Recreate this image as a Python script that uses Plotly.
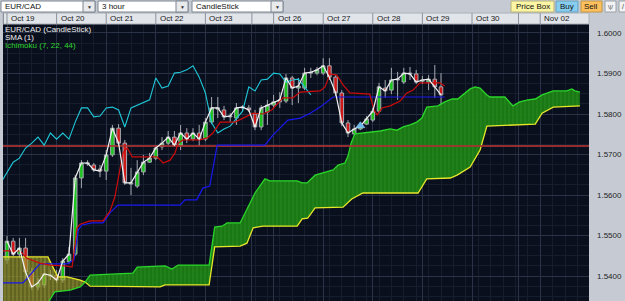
import plotly.graph_objects as go

# ---------------- data (3-hour candles, slot index) ----------------
slots = list(range(71))
opens = [1.5440,1.5486,1.5454,1.5469,1.5410,1.5373,1.5378,1.5400,1.5402,1.5390,
         1.5435,1.5454,1.5642,1.5677,1.5674,1.5664,1.5659,1.5699,1.5765,1.5728,
         1.5627,1.5622,1.5657,1.5681,1.5691,1.5719,1.5728,1.5743,1.5723,1.5753,
         1.5738,1.5753,1.5738,1.5780,1.5812,1.5810,1.5793,1.5790,1.5815,1.5815,
         1.5800,1.5768,1.5805,1.5822,1.5830,1.5832,1.5889,1.5864,1.5864,1.5901,
         1.5901,1.5901,1.5919,1.5891,1.5852,1.5778,1.5751,1.5763,1.5775,1.5785,
         1.5807,1.5864,1.5859,1.5884,1.5879,1.5901,1.5899,1.5881,1.5879,1.5886,
         1.5867]
highs = [1.5499,1.5494,1.5494,1.5494,1.5420,1.5395,1.5435,1.5415,1.5415,1.5444,
         1.5472,1.5649,1.5686,1.5686,1.5679,1.5674,1.5711,1.5773,1.5775,1.5736,
         1.5667,1.5686,1.5699,1.5704,1.5723,1.5743,1.5758,1.5758,1.5773,1.5765,
         1.5765,1.5773,1.5790,1.5842,1.5842,1.5820,1.5802,1.5827,1.5822,1.5822,
         1.5810,1.5822,1.5835,1.5847,1.5854,1.5899,1.5894,1.5889,1.5914,1.5914,
         1.5916,1.5938,1.5938,1.5896,1.5859,1.5785,1.5773,1.5778,1.5795,1.5815,
         1.5877,1.5884,1.5914,1.5904,1.5914,1.5916,1.5909,1.5894,1.5896,1.5921,
         1.5901]
lows = [1.5430,1.5449,1.5444,1.5390,1.5365,1.5365,1.5370,1.5390,1.5383,1.5383,
        1.5430,1.5449,1.5617,1.5672,1.5657,1.5644,1.5637,1.5694,1.5721,1.5625,
        1.5600,1.5617,1.5649,1.5679,1.5686,1.5711,1.5723,1.5719,1.5711,1.5728,
        1.5733,1.5721,1.5733,1.5775,1.5790,1.5785,1.5780,1.5773,1.5807,1.5805,
        1.5760,1.5760,1.5773,1.5815,1.5815,1.5827,1.5822,1.5827,1.5859,1.5889,
        1.5896,1.5896,1.5884,1.5844,1.5770,1.5743,1.5746,1.5760,1.5773,1.5780,
        1.5802,1.5840,1.5849,1.5835,1.5874,1.5884,1.5874,1.5874,1.5859,1.5840,
        1.5815]
closes = [1.5486,1.5454,1.5469,1.5410,1.5373,1.5383,1.5405,1.5402,1.5390,1.5437,
          1.5454,1.5642,1.5679,1.5679,1.5662,1.5659,1.5699,1.5765,1.5728,1.5630,
          1.5630,1.5657,1.5681,1.5691,1.5716,1.5728,1.5743,1.5723,1.5753,1.5738,
          1.5753,1.5738,1.5780,1.5815,1.5815,1.5793,1.5795,1.5815,1.5817,1.5810,
          1.5768,1.5815,1.5822,1.5830,1.5835,1.5889,1.5864,1.5869,1.5901,1.5903,
          1.5909,1.5919,1.5891,1.5852,1.5778,1.5753,1.5763,1.5770,1.5788,1.5807,
          1.5867,1.5857,1.5884,1.5886,1.5901,1.5899,1.5879,1.5884,1.5886,1.5867,
          1.5847]

chikou_shift = 21  # lagging span drawn back in time

tenkan_x = [-0.65,2.1,3.2,5.3,6.9,9.4,10.5,11.3,11.8,13.4,15.5,16.6,17.4,18.2,18.7,19.4,20.2,24.2,25.2,26.3,
            27.1,27.6,28.4,31.1,32.3,33.2,34.4,36.8,38.4,39.7,41.3,42.7,44.5,46.1,47.3,50.5,51.3,52.1,53.2,54.2,
            55.3,58.5,59.2,59.7,60.5,61.8,63.4,64.5,65.5,66.6,69.8,70.6]
tenkan_y = [1.5462,1.5462,1.5444,1.5432,1.5427,1.5425,1.5422,1.5519,1.5528,1.5536,1.5536,1.5560,1.5595,1.5657,
            1.5704,1.5716,1.5694,1.5694,1.5679,1.5686,1.5704,1.5728,1.5736,1.5736,1.5741,1.5753,1.5780,1.5780,
            1.5793,1.5802,1.5800,1.5810,1.5840,1.5840,1.5854,1.5857,1.5867,1.5899,1.5896,1.5872,1.5852,1.5849,
            1.5810,1.5798,1.5815,1.5820,1.5832,1.5852,1.5859,1.5877,1.5877,1.5869]

kijun_x = [-0.65,2.6,3.7,5.3,9.7,10.8,11.5,12.1,13.7,15.5,16.6,17.9,27.9,28.7,30.6,31.6,32.7,33.4,33.9,41.6,
           42.9,45.3,47.3,48.9,50.5,52.6,70.6]
kijun_y = [1.5383,1.5383,1.5402,1.5430,1.5430,1.5440,1.5514,1.5526,1.5531,1.5531,1.5556,1.5575,1.5575,1.5588,
           1.5588,1.5617,1.5622,1.5686,1.5723,1.5723,1.5748,1.5785,1.5790,1.5802,1.5817,1.5842,1.5842]

spanb_x = [-0.65,6.6,7.4,8.2,9.7,10.6,11.8,12.6,13.4,24.7,25.5,32.6,33.5,37.6,38.7,39.7,41.3,46.8,47.6,48.5,
           49.7,54.2,55.6,57.4,66.3,67.7,71.5,72.6,74.7,76.3,77.4,85.2,86.3,88.1,92.4]
spanb_y = [1.5447,1.5447,1.5422,1.5398,1.5398,1.5395,1.5390,1.5385,1.5375,1.5373,1.5378,1.5378,1.5472,1.5474,
           1.5481,1.5519,1.5523,1.5523,1.5541,1.5543,1.5568,1.5570,1.5590,1.5605,1.5605,1.5640,1.5642,1.5649,
           1.5669,1.5711,1.5770,1.5775,1.5802,1.5817,1.5820]

spana_x = [-0.65,6.6,6.9,7.7,10.2,11.8,12.6,13.4,20.3,21.0,25.5,26.6,27.6,32.6,33.5,34.7,35.5,37.6,40.0,41.6,
           42.4,46.8,47.6,48.4,49.7,51.3,52.6,53.4,54.5,55.0,55.5,56.1,60.2,61.8,62.9,63.9,65.0,66.1,66.9,67.7,
           69.5,70.6,71.8,72.7,73.9,74.7,75.5,76.3,77.4,77.9,80.3,81.6,82.7,84.0,85.2,86.3,88.1,90.3,91.1,91.6,92.4]
spana_y = [1.5328,1.5328,1.5341,1.5361,1.5365,1.5373,1.5385,1.5402,1.5407,1.5422,1.5425,1.5417,1.5427,1.5427,
           1.5521,1.5523,1.5531,1.5531,1.5605,1.5640,1.5635,1.5635,1.5630,1.5630,1.5649,1.5657,1.5662,1.5674,
           1.5679,1.5696,1.5728,1.5751,1.5758,1.5763,1.5760,1.5768,1.5773,1.5780,1.5790,1.5817,1.5820,1.5830,
           1.5837,1.5837,1.5852,1.5862,1.5867,1.5864,1.5847,1.5842,1.5842,1.5820,1.5830,1.5835,1.5837,1.5847,
           1.5857,1.5857,1.5862,1.5857,1.5854]
cloud_cross = 12.6

ref_level = 1.5721
signal_slot = [57]
signal_price = [1.5771]

day_slots = [0, 8, 16, 24, 32, 39.5, 43, 51, 59, 67, 75, 82.5, 86]
day_labels = ["Oct 19", "Oct 20", "Oct 21", "Oct 22", "Oct 23", "", "Oct 26", "Oct 27",
              "Oct 28", "Oct 29", "Oct 30", "", "Nov 02"]
price_ticks = [1.54, 1.55, 1.56, 1.57, 1.58, 1.59, 1.60]

# ---------------- layout geometry ----------------
W, H = 625, 301
ML, MR, MT, MB = 3, 36, 24, 0
PW = W - ML - MR
PH = H - MT - MB
XR = [-0.645, 93.87]
YR = [1.53383, 1.60222]


def px(x):
    return (x - ML) / PW


def py(y):
    return (H - MB - y) / PH


def sx(s):
    return (s - XR[0]) / (XR[1] - XR[0])


FONT = "Liberation Sans, Arial, sans-serif"

fig = go.Figure()

fig.add_trace(go.Candlestick(
    x=slots, open=opens, high=highs, low=lows, close=closes,
    increasing=dict(fillcolor="#1ec41e", line=dict(color="#a6aab2", width=1)),
    decreasing=dict(fillcolor="#d01818", line=dict(color="#a6aab2", width=1)),
    whiskerwidth=0, hoverinfo="skip", showlegend=False))

# cloud: yellow part (span B above span A) then green part
bx1 = [x for x in spanb_x if x <= cloud_cross]
by1 = [y for x, y in zip(spanb_x, spanb_y) if x <= cloud_cross]
ax1 = [x for x in spana_x if x <= cloud_cross]
ay1 = [y for x, y in zip(spana_x, spana_y) if x <= cloud_cross]
bx2 = [x for x in spanb_x if x >= cloud_cross]
by2 = [y for x, y in zip(spanb_x, spanb_y) if x >= cloud_cross]
ax2 = [x for x in spana_x if x >= cloud_cross]
ay2 = [y for x, y in zip(spana_x, spana_y) if x >= cloud_cross]

fig.add_trace(go.Scatter(x=ax1, y=ay1, mode="lines", line=dict(width=0), showlegend=False, hoverinfo="skip"))
fig.add_trace(go.Scatter(x=bx1, y=by1, mode="lines", line=dict(width=0), fill="tonexty",
                         fillcolor="rgba(170,170,45,0.68)",
                         fillpattern=dict(shape="|", bgcolor="rgba(150,150,35,0.62)",
                                          fgcolor="rgba(190,190,70,0.75)", size=4, solidity=0.3),
                         showlegend=False, hoverinfo="skip"))
fig.add_trace(go.Scatter(x=bx2, y=by2, mode="lines", line=dict(width=0), showlegend=False, hoverinfo="skip"))
fig.add_trace(go.Scatter(x=ax2, y=ay2, mode="lines", line=dict(width=0), fill="tonexty",
                         fillcolor="rgba(30,140,22,0.9)",
                         fillpattern=dict(shape="|", bgcolor="rgba(26,128,20,0.92)",
                                          fgcolor="rgba(48,152,40,0.9)", size=4, solidity=0.3),
                         showlegend=False, hoverinfo="skip"))

fig.add_trace(go.Scatter(x=spanb_x, y=spanb_y, mode="lines", line=dict(color="#e8e82a", width=1.3),
                         showlegend=False, hoverinfo="skip"))
fig.add_trace(go.Scatter(x=spana_x, y=spana_y, mode="lines", line=dict(color="#2ad62a", width=1.3),
                         showlegend=False, hoverinfo="skip"))

fig.add_trace(go.Scatter(x=[XR[0] - 1, XR[1] + 1], y=[ref_level, ref_level], mode="lines",
                         line=dict(color="rgba(170,50,50,0.85)", width=2), showlegend=False, hoverinfo="skip"))

# lagging span (closes drawn back in time)
fig.add_trace(go.Scatter(x=[s - chikou_shift for s in slots], y=closes, mode="lines",
                         line=dict(color="#1fc8d8", width=1.1), showlegend=False, hoverinfo="skip"))
fig.add_trace(go.Scatter(x=kijun_x, y=kijun_y, mode="lines", line=dict(color="#1818ee", width=1.2),
                         showlegend=False, hoverinfo="skip"))
fig.add_trace(go.Scatter(x=tenkan_x, y=tenkan_y, mode="lines", line=dict(color="#cc0c0c", width=1.2),
                         showlegend=False, hoverinfo="skip"))
fig.add_trace(go.Scatter(x=slots, y=closes, mode="lines", line=dict(color="#f2f2f2", width=1.2),
                         showlegend=False, hoverinfo="skip"))
fig.add_trace(go.Scatter(x=signal_slot, y=signal_price, mode="markers",
                         marker=dict(symbol="triangle-up", size=8, color="#6cb8ea",
                                     line=dict(color="#9fd4f4", width=0.5)),
                         showlegend=False, hoverinfo="skip"))

shapes = []
annotations = []


def rect(x0, y0, x1, y1, fill, line="#7e8692", lw=1):
    shapes.append(dict(type="rect", xref="paper", yref="paper", x0=px(x0), x1=px(x1),
                       y0=py(y1), y1=py(y0), fillcolor=fill, line=dict(color=line, width=lw)))


def vline(xp, y0, y1, color, lw=1):
    shapes.append(dict(type="line", xref="paper", yref="paper", x0=xp, x1=xp, y0=py(y1), y1=py(y0),
                       line=dict(color=color, width=lw)))


def text(x, y, s, color="#111111", size=8, anchor="left"):
    annotations.append(dict(xref="paper", yref="paper", x=px(x), y=py(y), text=s, showarrow=False,
                            xanchor=anchor, yanchor="middle", borderpad=0,
                            font=dict(family=FONT, size=size, color=color)))


# date header row
rect(3, 13, 589, 24, "#e1e4e9", line="#aab0b9", lw=1)
vline(px(3.5), 13, 24, "#8c929c")
for s, lab in zip(day_slots, day_labels):
    xp = sx(s)
    vline(xp, 13, 24, "#8c929c")
    if lab:
        annotations.append(dict(xref="paper", yref="paper", x=xp + 3 / PW, y=py(18.7), text=lab,
                                showarrow=False, xanchor="left", yanchor="middle", borderpad=0,
                                font=dict(family=FONT, size=8, color="#1a1a1a")))

# dropdowns
for (x0, x1, label) in [(1, 95, "EUR/CAD"), (98, 188, "3 hour"), (192, 283, "CandleStick")]:
    rect(x0, 1, x1, 12, "#ffffff")
    rect(x1 - 12, 1, x1, 12, "#e9eaec")
    text(x0 + 3, 6.8, label, size=8)
    text(x1 - 6, 6.8, "▼", color="#333333", size=5, anchor="center")

# buttons
rect(511, 1, 554, 12, "#fbf5a4", line="#b9b27c")
text(532.5, 6.8, "Price Box", size=8, anchor="center")
rect(556, 1, 578, 12, "#86cdf0", line="#6a9fbd")
text(567, 6.8, "Buy", size=8, anchor="center")
rect(581, 1, 602, 12, "#fdc05c", line="#c19446")
text(591.5, 6.8, "Sell", size=8, anchor="center")
rect(605, 1, 616, 12, "#f3f3f3", line="#9aa0a8")
text(610.5, 6.8, "\\|/", color="#333333", size=6, anchor="center")
rect(619, 1, 630, 12, "#f3f3f3", line="#9aa0a8")
text(623, 6.8, "/", color="#333333", size=7, anchor="center")

# legend texts in plot
text(4, 29.5, "EUR/CAD (CandleStick)", color="#f0f0f0", size=8)
text(4, 37.5, "SMA (1)", color="#f0f0f0", size=8)
text(4, 45.5, "Ichimoku (7, 22, 44)", color="#2ed82e", size=8)

fig.update_layout(
    width=W, height=H,
    margin=dict(l=ML, r=MR, t=MT, b=MB, pad=0),
    paper_bgcolor="#c6cbd3",
    plot_bgcolor="#0a0f1d",
    showlegend=False,
    hovermode=False,
    boxgap=0.18,
    shapes=shapes,
    annotations=annotations,
    xaxis=dict(range=XR, tickmode="array", tickvals=day_slots, showticklabels=False, ticks="",
               showgrid=True, gridcolor="#2a3246", gridwidth=1, zeroline=False, showline=False,
               rangeslider=dict(visible=False), fixedrange=True,
               minor=dict(dtick=2, tick0=0, showgrid=True, gridcolor="#161d2d", gridwidth=1, ticks="")),
    yaxis=dict(range=YR, side="right", tickmode="array", tickvals=price_ticks,
               ticktext=["%.4f" % v for v in price_ticks], ticks="", ticklabelstandoff=7,
               tickfont=dict(family=FONT, size=8, color="#1e1e1e"),
               showgrid=True, gridcolor="#2a3246", gridwidth=1, zeroline=False, showline=False,
               fixedrange=True,
               minor=dict(dtick=0.0025, tick0=1.54, showgrid=True, gridcolor="#161d2d", gridwidth=1, ticks="")),
)

fig.write_html("out.html", config=dict(displayModeBar=False, staticPlot=True))
